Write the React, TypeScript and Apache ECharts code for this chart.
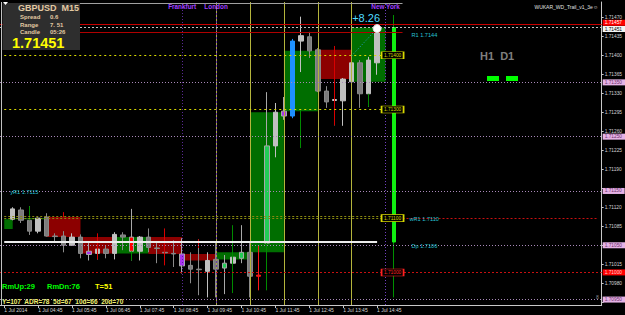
import React, { useEffect, useRef } from 'react';
import * as echarts from 'echarts';

const FONT = '"Liberation Sans", Arial, sans-serif';

// ---------- axes ----------
const firstBarMinutes = 3 * 60 + 45; // 03:45
const slotCount = 71;
const categories: string[] = Array.from({ length: slotCount }, (_, i) => {
  const m = firstBarMinutes + 15 * i;
  return `${String(Math.floor(m / 60)).padStart(2, '0')}:${String(m % 60).padStart(2, '0')}`;
});
const lastBarIndex = 44;
const priceTicks = [1.70945, 1.7098, 1.71015, 1.7105, 1.71085, 1.7112, 1.71155, 1.7119, 1.71225, 1.7126, 1.71295, 1.7133, 1.71365, 1.714, 1.71435, 1.7147];
// labels hidden under the level badges are not printed
const priceLabels = [1.7098, 1.71015, 1.71085, 1.7112, 1.7119, 1.71225, 1.7126, 1.71295, 1.7133, 1.71365, 1.714, 1.71435, 1.7147];
const priceMin = 1.7094;
const priceMax = 1.71498;

// ---------- M15 candles (index 0 = 03:45, off screen) ----------
const opens = [null, 1.71098, 1.71115, 1.71096, 1.71076, 1.71102, 1.71067, 1.71067, 1.7105, 1.71065, 1.71039, 1.71035, 1.71043, 1.71035, 1.71069, 1.71065, 1.71039, 1.71065, 1.71045, 1.71037, 1.71035, 1.71034, 1.71013, 1.71006, 1.71002, 1.71024, 1.71008, 1.71017, 1.71026, 1.71037, 1.70993, 1.71054, 1.71233, 1.71297, 1.71288, 1.71426, 1.71434, 1.7141, 1.71334, 1.71318, 1.71316, 1.71351, 1.71386, 1.71329, 1.71386];
const closes = [null, 1.71117, 1.71096, 1.71076, 1.711, 1.71067, 1.71066, 1.7105, 1.71065, 1.71035, 1.71033, 1.71043, 1.71035, 1.7107, 1.71065, 1.71039, 1.71065, 1.71046, 1.71044, 1.71036, 1.71034, 1.71012, 1.71006, 1.71005, 1.71022, 1.71006, 1.71017, 1.71028, 1.71037, 1.70993, 1.70995, 1.71233, 1.71295, 1.71288, 1.71426, 1.71436, 1.71408, 1.71334, 1.71314, 1.71317, 1.71356, 1.71386, 1.71329, 1.71391, 1.71451];
const lows = [null, 1.71096, 1.71091, 1.71069, 1.71072, 1.71066, 1.71056, 1.71037, 1.71049, 1.71026, 1.71022, 1.71024, 1.71026, 1.71024, 1.71041, 1.71022, 1.71022, 1.71037, 1.71017, 1.71017, 1.7101, 1.70998, 1.7098, 1.70958, 1.70954, 1.70954, 1.7096, 1.71004, 1.71017, 1.70954, 1.70967, 1.71054, 1.71212, 1.71281, 1.71284, 1.71369, 1.71395, 1.71332, 1.71303, 1.71271, 1.7127, 1.71332, 1.71303, 1.71305, 1.71364];
const highs = [null, 1.7112, 1.7112, 1.71122, 1.71101, 1.71109, 1.71072, 1.71076, 1.71072, 1.7107, 1.71054, 1.71056, 1.7105, 1.71074, 1.71074, 1.71117, 1.71067, 1.71081, 1.71054, 1.7106, 1.71059, 1.71063, 1.71037, 1.71061, 1.71037, 1.71054, 1.71032, 1.71048, 1.71087, 1.71054, 1.7105, 1.71332, 1.71312, 1.71323, 1.7143, 1.71471, 1.71443, 1.71413, 1.71343, 1.71318, 1.71358, 1.71391, 1.71391, 1.71397, 1.71453];

const specialFill: Record<number, string> = {
  10: '#a833ee', 15: '#ff0000', 21: '#a833ee', 26: '#22cc55', 28: '#22cc55',
  30: '#ff1a1a', 31: '#22cc55', 33: '#a833ee', 34: '#1e90ff', 39: '#e8e8e8',
};
const specialEdge: Record<number, string> = { 30: '#ff1a1a', 39: '#e8e8e8', 34: '#1e90ff' };

// indicator wicks
const greenMarkIdx = [3, 15, 27, 31, 35, 43];
const greenMarkLow = [1.71096, 1.71022, 1.70962, 1.70967, 1.71229, 1.71305];
const greenMarkHigh = [1.71122, 1.71039, 1.71087, 1.71054, 1.71299, 1.71329];
const redMarkIdx = [7, 11, 19, 23, 39];
const redMarkLow = [1.71102, 1.71024, 1.71013, 1.71045, 1.71271];
const redMarkHigh = [1.71111, 1.71072, 1.71081, 1.71061, 1.71417];

// daily candle drawn right of price
const d1Index = 46;
const dayOpen = 1.71056;
const dayClose = 1.71451;
const dayLow = 1.70954;
const dayHigh = 1.71474;

// H1 boxes
const earlyBoxStart = 0, earlyBoxEnd = 1, earlyBoxOpen = 1.7108, earlyBoxClose = 1.71098;
const hourStarts = [1, 5, 9, 13, 17, 21, 25, 29, 33, 37, 41];

// levels
const askPrice = 1.71457;
const bidPrice = 1.71451;
const r1Level = 1.71443;
const topLevel = 1.71496;
const pinkLevels = [1.7135, 1.7125, 1.7115, 1.7105, 1.7095];
const yellowLevels = [1.714, 1.713];
const oliveLevels = [1.711, 1.71104];
const redLevels = [1.711, 1.71];
const yellowTags = [1.715, 1.714, 1.713, 1.711];
const redTags = [1.71];
const sessionIdx = [21, 25, 45];
const sessionNames = ['Frankfurt', 'London', 'New York'];
const hourLineIdx = [29, 33, 37, 41];
const pivotLabels = [
  { idx: 48, value: 1.71443, text: 'R1 1.7144', off: [0, 3] },
  { idx: 1, value: 1.7115, text: 'yR1 1.7115', off: [-3, 1] },
  { idx: 48, value: 1.711, text: 'wR1 1.7110', off: [-2, 1] },
  { idx: 48, value: 1.71056, text: 'Dp 1.7106', off: [0, 4] },
];
const trailStart = [41, 1.71399];
const trailEnd = [44, 1.71449];

const GREEN_BOX = '#006e00';
const RED_BOX = '#8c0000';
const CYAN = '#27c3d6';
const TAN = '#e2c9a2';

function buildOption() {
  const cat = (i: number) => categories[i];

  const mainData: any[] = [];
  for (let i = 0; i <= lastBarIndex; i++) {
    if (opens[i] == null) continue;
    const v = [i, opens[i], closes[i], lows[i], highs[i]];
    const f = specialFill[i];
    if (f) {
      const e = specialEdge[i] || '#a8a8a8';
      mainData.push({ value: v, itemStyle: { color: f, color0: f, borderColor: e, borderColor0: e } });
    } else mainData.push(v);
  }
  const mark = (idx: number[], lo: number[], hi: number[]) => idx.map((x, k) => [x, lo[k], lo[k], lo[k], hi[k]]);

  const boxData: any[] = [];
  const pushBox = (s: number, e: number, o: number, c: number) => {
    boxData.push([
      { xAxis: cat(s), yAxis: o, itemStyle: { color: c >= o ? GREEN_BOX : RED_BOX } },
      { xAxis: cat(e), yAxis: c },
    ]);
  };
  pushBox(earlyBoxStart, earlyBoxEnd, earlyBoxOpen, earlyBoxClose);
  hourStarts.forEach((s) => {
    const last = Math.min(s + 3, lastBarIndex);
    pushBox(s, s + 4, opens[s] as number, closes[last] as number);
  });

  const vlineData: any[] = [
    { xAxis: cat(sessionIdx[0]), lineStyle: { color: '#5a2a96', type: [1, 2], width: 1 } },
    { xAxis: cat(sessionIdx[1]), lineStyle: { color: '#a8a840', type: [2, 2], width: 1 } },
    { xAxis: cat(sessionIdx[1]), lineStyle: { color: '#6a3aa6', type: [2, 2], dashOffset: 2, width: 1 } },
    { xAxis: cat(sessionIdx[2]), lineStyle: { color: '#7040c0', type: [1, 2], width: 1 } },
    ...hourLineIdx.map((i) => ({ xAxis: cat(i), lineStyle: { color: '#b4b43c', type: 'solid', width: 1 } })),
  ];

  const badge = (v: number, bg: string, fg: string, dy = 0) => ({
    show: true, position: 'end', distance: 1, formatter: v.toFixed(5), color: fg, backgroundColor: bg,
    fontSize: 4.8, fontFamily: FONT, padding: [0.5, 3, 0.5, 2], lineHeight: 5, offset: [0, dy],
  });
  const seg = (a: number, b: number, v: number, lineStyle: any) => [
    { coord: [cat(a), v], lineStyle },
    { coord: [cat(b), v] },
  ];

  const hlineData: any[] = [
    seg(0, 47, topLevel, { color: '#a0a0a0', type: 'solid', width: 1 }),
    ...pinkLevels.map((v) => ({ yAxis: v, lineStyle: { color: '#a888b8', type: [1, 2], width: 1 }, label: badge(v, '#e6b3e6', '#6b2f6b') })),
    { yAxis: redLevels[1], lineStyle: { color: '#c81010', type: [2, 2], width: 1 }, label: badge(redLevels[1], '#ff0000', '#ffd0d0') },
    seg(47, 70, redLevels[0], { color: '#c81010', type: [2, 2], width: 1 }),
    { yAxis: redLevels[0], lineStyle: { opacity: 0 }, label: badge(redLevels[0], '#ff0000', '#ffd0d0') },
    ...oliveLevels.map((v) => seg(0, 45, v, { color: '#8a8a10', type: [2, 2], width: 1 })),
    ...yellowLevels.map((v) => seg(0, 45, v, { color: '#d8d800', type: [2, 3], width: 1 })),
    seg(0, 47, r1Level, { color: '#b00000', type: 'solid', width: 1 }),
    seg(0, lastBarIndex, dayOpen, { color: '#ececec', type: 'solid', width: 2 }),
    { yAxis: askPrice, lineStyle: { color: '#c80000', type: 'solid', width: 1 }, label: badge(askPrice, '#ff0000', '#ffffff', -1.5) },
    { yAxis: bidPrice, lineStyle: { color: '#c0c0c0', type: [2, 2], width: 1 }, label: badge(bidPrice, '#f4f4f4', '#000000', 1.5) },
  ];

  const tag = (v: number, col: string) => ({
    coord: [cat(45), v], symbol: 'rect', symbolSize: [22, 7], symbolOffset: [7, 0],
    itemStyle: { color: '#000', borderColor: col, borderWidth: 1 },
    label: { show: true, position: 'inside', formatter: v.toFixed(5), color: col, fontSize: 4.8, fontFamily: FONT },
  });
  const textPoint = (idx: number, v: number, text: string, style: any, off: number[] = [0, 0], pos = 'inside') => ({
    coord: [cat(idx), v], symbol: 'circle', symbolSize: 1, itemStyle: { color: 'rgba(0,0,0,0)' },
    label: { show: true, position: pos, distance: 0, offset: off, formatter: text, fontFamily: FONT, ...style },
  });
  const pointData: any[] = [
    ...yellowTags.map((v) => tag(v, '#d8d800')),
    ...redTags.map((v) => tag(v, '#ff2020')),
    ...pivotLabels.map((p) => textPoint(p.idx, p.value, p.text, { color: CYAN, fontSize: 5.6 }, p.off, 'right')),
    ...sessionIdx.map((i, k) => textPoint(i, 1.71489, sessionNames[k], { color: '#a040ff', fontSize: 6.4, fontWeight: 'bold' })),
    textPoint(lastBarIndex, bidPrice, '+8.26', { color: '#4fdcff', fontSize: 11 }, [-11, -10]),
  ];

  const txt = (text: string, x: number, y: number, font: string, fill: string, align = 'left') => ({
    type: 'text', x, y, z: 101, silent: true,
    style: { text, fill, font, textAlign: align, align, textVerticalAlign: 'middle', verticalAlign: 'middle' },
  });
  const f = (w: string, s: number) => `${w} ${s}px "Liberation Sans", Arial, sans-serif`;

  const graphic: any[] = [
    { type: 'line', z: 100, silent: true, shape: { x1: 1.5, y1: 2, x2: 1.5, y2: 305 }, style: { stroke: '#c0c0c0', lineWidth: 1 } },
    { type: 'rect', z: 100, silent: true, shape: { x: 2.5, y: 3, width: 77.5, height: 47 }, style: { fill: '#2e2e2e' } },
    { type: 'polygon', z: 101, silent: true, shape: { points: [[3, 2], [8, 2], [5.5, 5]] }, style: { fill: '#ffffff' } },
    txt('GBPUSD  M15', 18, 8, f('bold', 9), TAN),
    txt('Spread', 20, 16.5, f('bold', 6), TAN), txt('0.6', 50, 16.5, f('bold', 6), TAN),
    txt('Range', 20, 24.5, f('bold', 6), TAN), txt('7. 51', 50, 24.5, f('bold', 6), TAN),
    txt('Candle', 20, 32, f('bold', 6), TAN), txt('05:26', 50, 32, f('bold', 6), TAN),
    txt('1.71451', 12, 43, f('bold', 14.5), '#ffff00'),
    txt('WUKAR_WD_Trail_v1_3e\u263A', 598, 7, f('normal', 5), '#e0e0e0', 'right'),
    txt('H1  D1', 480, 55.5, f('bold', 11), '#7f7f7f'),
    { type: 'rect', z: 101, silent: true, shape: { x: 487, y: 76, width: 12, height: 5 }, style: { fill: '#00ff00' } },
    { type: 'rect', z: 101, silent: true, shape: { x: 506, y: 76, width: 12, height: 5 }, style: { fill: '#00ff00' } },
    txt('RmUp:29', 2, 286, f('bold', 7.5), '#00ff00'),
    txt('RmDn:76', 47, 286, f('bold', 7.5), '#00ff00'),
    txt('T=51', 95, 286, f('bold', 7.5), '#ffff00'),
    txt('Y=107  ADR=78  5d=67  10d=66  20d=70', 2, 301, f('bold', 6.5), '#f0f070'),
    txt('8', 596, 297, f('normal', 5), '#909090'),
  ];

  const showTick = (i: number) => i % 4 === 0 && i <= lastBarIndex;

  return {
    animation: false,
    backgroundColor: '#000000',
    grid: { left: -3, right: 22, top: 2, bottom: 10 },
    xAxis: {
      type: 'category', data: categories, boundaryGap: true,
      axisLine: { show: true, lineStyle: { color: '#c8c8c8', width: 1 } },
      axisTick: { show: true, alignWithLabel: true, interval: showTick, length: 3, lineStyle: { color: '#c8c8c8' } },
      axisLabel: {
        show: true, interval: showTick, align: 'left', margin: 2, fontSize: 5, color: '#d4d4d4', fontFamily: FONT,
        formatter: (v: string, i: number) => (i === 0 ? '1 Jul 2014' : `1 Jul ${v}`),
      },
      splitLine: { show: false },
    },
    yAxis: {
      type: 'value', position: 'right', min: priceMin, max: priceMax, scale: true,
      axisLine: { show: true, lineStyle: { color: '#c8c8c8' } },
      axisTick: { show: true, inside: false, length: 2, customValues: priceTicks, lineStyle: { color: '#c8c8c8' } },
      axisLabel: { customValues: priceLabels, formatter: (v: number) => v.toFixed(5), fontSize: 4.8, color: '#d4d4d4', margin: 3, fontFamily: FONT },
      splitLine: { show: false },
    },
    series: [
      { type: 'line', name: 'boxes', data: [], z: 1, silent: true, markArea: { silent: true, data: boxData } },
      { type: 'line', name: 'vlines', data: [], z: 2, silent: true, markLine: { symbol: ['none', 'none'], precision: 5, silent: true, label: { show: false }, data: vlineData } },
      {
        type: 'candlestick', name: 'GBPUSD M15', z: 3, barWidth: 5, data: mainData, encode: { x: 0, y: [1, 2, 3, 4] },
        itemStyle: { color: '#c0c0c0', color0: '#7c7c7c', borderColor: '#c0c0c0', borderColor0: '#8a8a8a', borderWidth: 1 },
      },
      {
        type: 'candlestick', name: 'greenMarks', z: 3, barWidth: 0.5, data: mark(greenMarkIdx, greenMarkLow, greenMarkHigh), encode: { x: 0, y: [1, 2, 3, 4] },
        itemStyle: { color: '#008a00', color0: '#008a00', borderColor: '#008a00', borderColor0: '#008a00', borderWidth: 1 },
      },
      {
        type: 'candlestick', name: 'redMarks', z: 3, barWidth: 0.5, data: mark(redMarkIdx, redMarkLow, redMarkHigh), encode: { x: 0, y: [1, 2, 3, 4] },
        itemStyle: { color: '#d80000', color0: '#d80000', borderColor: '#d80000', borderColor0: '#d80000', borderWidth: 1 },
      },
      {
        type: 'candlestick', name: 'D1wick', z: 3, barWidth: 0.5, data: [[d1Index, dayLow, dayLow, dayLow, dayHigh]], encode: { x: 0, y: [1, 2, 3, 4] },
        itemStyle: { color: '#009000', color0: '#009000', borderColor: '#009000', borderColor0: '#009000', borderWidth: 1 },
      },
      {
        type: 'candlestick', name: 'D1', z: 3, barWidth: 3, data: [[d1Index, dayOpen, dayClose, dayOpen, dayClose]], encode: { x: 0, y: [1, 2, 3, 4] },
        itemStyle: { color: '#11ee11', color0: '#11ee11', borderColor: '#11ee11', borderColor0: '#11ee11', borderWidth: 1 },
      },
      { type: 'line', name: 'levels', data: [], z: 4, silent: true, markLine: { symbol: ['none', 'none'], precision: 5, silent: true, label: { show: false }, data: hlineData } },
      { type: 'line', name: 'labels', data: [], z: 5, silent: true, markPoint: { silent: true, data: pointData } },
      {
        type: 'line', name: 'trail', z: 6, silent: true, symbol: 'circle', showSymbol: true,
        lineStyle: { color: '#2a9fd6', type: [1, 2], width: 1 },
        data: [
          { value: trailStart, symbolSize: 7, itemStyle: { color: '#1a5cff', borderColor: '#ffffff', borderWidth: 1.5 } },
          { value: trailEnd, symbolSize: 8, itemStyle: { color: '#ffffff', borderColor: '#e0e0e0', borderWidth: 1 } },
        ],
      },
    ],
    graphic,
  };
}

export default function App() {
  const ref = useRef<HTMLDivElement>(null);
  useEffect(() => {
    document.body.style.margin = '0';
    document.body.style.background = '#000';
    const chart = echarts.init(ref.current!, null, { renderer: 'svg' });
    chart.setOption(buildOption() as any);
    return () => chart.dispose();
  }, []);
  return <div ref={ref} style={{ width: 625, height: 315, background: '#000' }} />;
}
